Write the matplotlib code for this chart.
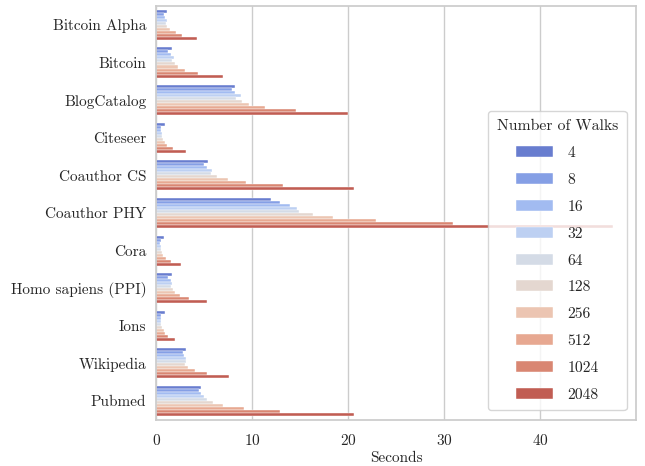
import numpy as np
import matplotlib
matplotlib.use("Agg")
import matplotlib.pyplot as plt
import seaborn as sns

# Data (seconds)
datasets = ['Bitcoin Alpha', 'Bitcoin', 'BlogCatalog', 'Citeseer', 'Coauthor CS',
            'Coauthor PHY', 'Cora', 'Homo sapiens (PPI)', 'Ions', 'Wikipedia', 'Pubmed']
walks = [4, 8, 16, 32, 64, 128, 256, 512, 1024, 2048]

bitcoin_alpha = [1.18, 0.87, 0.97, 1.18, 1.04, 1.18, 1.46, 2.05, 2.74, 4.3]
bitcoin = [1.7, 1.28, 1.56, 1.88, 1.7, 1.98, 2.29, 3.06, 4.41, 6.98]
blogcatalog = [8.26, 7.95, 8.26, 8.89, 8.37, 8.99, 9.72, 11.39, 14.55, 20.0]
citeseer = [0.97, 0.56, 0.56, 0.66, 0.66, 0.73, 0.97, 1.18, 1.81, 3.13]
coauthor_cs = [5.45, 5.03, 5.35, 5.87, 5.76, 6.39, 7.53, 9.41, 13.26, 20.66]
coauthor_phy = [11.98, 12.92, 13.96, 14.72, 14.9, 16.39, 18.47, 22.9, 30.9, 47.6]
cora = [0.87, 0.56, 0.45, 0.56, 0.56, 0.66, 0.76, 1.08, 1.56, 2.57]
homo_sapiens = [1.7, 1.28, 1.56, 1.7, 1.56, 1.77, 1.98, 2.53, 3.47, 5.35]
ions = [0.94, 0.56, 0.56, 0.56, 0.56, 0.66, 0.87, 0.97, 1.28, 2.01]
wikipedia = [3.13, 2.85, 2.95, 3.16, 3.09, 3.02, 3.37, 4.06, 5.35, 7.64]
pubmed = [4.72, 4.51, 4.72, 5.03, 5.35, 5.9, 7.01, 9.17, 12.88, 20.66]

times = np.array([bitcoin_alpha, bitcoin, blogcatalog, citeseer, coauthor_cs,
                  coauthor_phy, cora, homo_sapiens, ions, wikipedia, pubmed])

# Style
sns.set_theme(style="whitegrid")
plt.rcParams['font.family'] = ['cmr10', 'DejaVu Serif']
plt.rcParams['mathtext.fontset'] = 'cm'
plt.rcParams['axes.formatter.use_mathtext'] = True
plt.rcParams['font.size'] = 11

colors = sns.color_palette("coolwarm", len(walks), desat=0.75)

fig, ax = plt.subplots(figsize=(6.45, 4.66), dpi=100)
fig.subplots_adjust(left=0.242, right=0.986, top=0.987, bottom=0.099)

y = np.arange(len(datasets))
n = len(walks)
h = 0.8 / n
for i, w in enumerate(walks):
    ax.barh(y - 0.4 + h * (i + 0.5), times[:, i], height=h, color=colors[i],
            label=str(w), edgecolor='white', linewidth=0.3)

ax.set_yticks(y)
ax.set_yticklabels(datasets, fontsize=11)
ax.set_ylim(len(datasets) - 0.5, -0.5)
ax.grid(axis='y', visible=False)
ax.set_xticks([0, 10, 20, 30, 40])
ax.tick_params(axis='x', labelsize=11)
ax.tick_params(axis='y', length=0, pad=7)
ax.set_xlabel('Seconds', fontsize=11, labelpad=2)
for s in ax.spines.values():
    s.set_color('#cccccc')

leg = ax.legend(title='Number of Walks', loc='lower right', fontsize=11.3,
                title_fontsize=11.3, handlelength=2.4, labelspacing=0.82,
                handletextpad=0.9, borderpad=0.55, borderaxespad=0.6)

plt.savefig('out.png', dpi=100)
